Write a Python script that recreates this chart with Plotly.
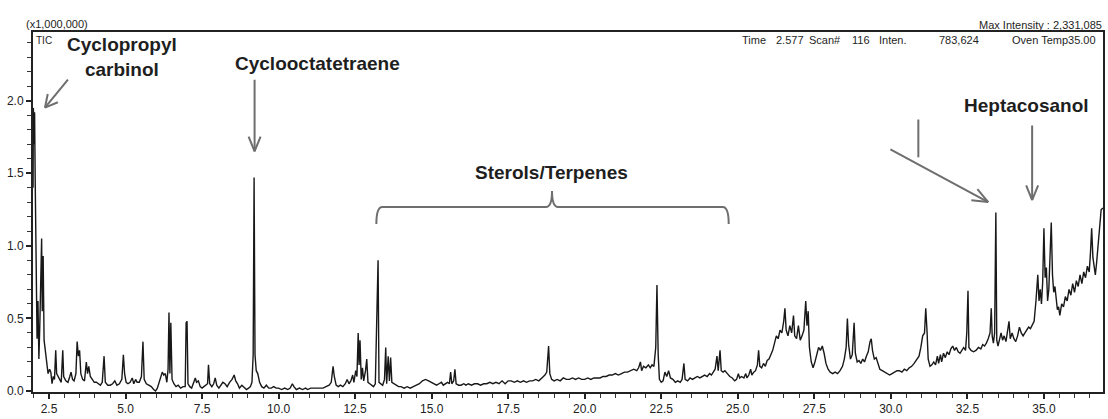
import plotly.graph_objects as go
import math

# ---------------- data (retention time in min, TIC intensity in x1,000,000) ----------------
time_min = [
    1.98, 1.99, 2.01, 2.03, 2.05, 2.08, 2.11, 2.14, 2.17, 2.20, 2.23, 2.26, 2.28, 2.31, 2.34, 2.38, 2.42, 2.47,
    2.52, 2.56, 2.60, 2.64, 2.68, 2.72, 2.75, 2.80, 2.85, 2.90, 2.95, 2.98,
    3.05, 3.12, 3.18, 3.22, 3.27, 3.32, 3.38, 3.42, 3.46, 3.50, 3.54, 3.60, 3.66, 3.72, 3.76, 3.80, 3.85, 3.92,
    3.98, 4.05, 4.12, 4.18, 4.24, 4.30, 4.34, 4.42, 4.50, 4.58, 4.65, 4.72, 4.80, 4.88, 4.93, 4.97, 5.02,
    5.08, 5.15, 5.22, 5.27, 5.33, 5.38, 5.45, 5.52, 5.57, 5.61, 5.68, 5.76, 5.84, 5.92, 5.98, 6.04, 6.10, 6.16,
    6.20, 6.25, 6.30, 6.35, 6.39, 6.42, 6.45, 6.48, 6.52, 6.58, 6.65, 6.72, 6.80, 6.88, 6.95, 6.98, 7.01, 7.04,
    7.10, 7.16, 7.22, 7.28, 7.32, 7.38, 7.44, 7.50,
    7.56, 7.62, 7.68, 7.71, 7.75, 7.82, 7.88, 7.93, 7.98, 8.05, 8.12, 8.18, 8.25, 8.32, 8.40, 8.48, 8.55, 8.60,
    8.66, 8.72, 8.80, 8.88, 8.95, 9.02, 9.08, 9.13, 9.17, 9.20, 9.23, 9.27, 9.32, 9.38, 9.45, 9.52, 9.60, 9.68,
    9.76, 9.84, 9.92, 10.00,
    10.10, 10.20, 10.30, 10.38, 10.45, 10.50, 10.58, 10.68, 10.78, 10.88, 10.95, 11.05, 11.15, 11.25, 11.35,
    11.45, 11.55, 11.65, 11.72, 11.78, 11.82, 11.88, 11.95, 12.02, 12.10, 12.18, 12.24, 12.30, 12.36, 12.42, 12.46,
    12.52, 12.56, 12.60, 12.63, 12.66, 12.70, 12.74, 12.78, 12.84, 12.88, 12.92, 12.98, 13.04, 13.10, 13.16,
    13.22, 13.25, 13.28, 13.34, 13.40, 13.46, 13.50, 13.53, 13.58, 13.62, 13.66, 13.70, 13.76, 13.84,
    13.92, 14.00, 14.10, 14.20, 14.30, 14.40, 14.50, 14.60, 14.70, 14.80, 14.90, 15.00, 15.08, 15.16, 15.24,
    15.32, 15.38, 15.45, 15.52, 15.58, 15.62, 15.66, 15.72, 15.76, 15.80, 15.88, 15.96, 16.05, 16.12, 16.20,
    16.30, 16.40, 16.50, 16.60, 16.70, 16.80, 16.90, 17.00, 17.10, 17.20, 17.30, 17.40, 17.50, 17.60, 17.70,
    17.80, 17.90, 18.00, 18.10, 18.20, 18.30, 18.40, 18.50, 18.60, 18.70, 18.76, 18.82, 18.86, 18.92, 19.00,
    19.10, 19.20, 19.30, 19.40, 19.50, 19.60, 19.70, 19.80, 19.90, 20.00, 20.10, 20.20, 20.30, 20.40, 20.50,
    20.60, 20.70, 20.80, 20.90, 21.00, 21.10, 21.20, 21.30, 21.40, 21.50, 21.60, 21.70, 21.76, 21.82, 21.86,
    21.92, 22.00, 22.08, 22.14, 22.20, 22.26, 22.32, 22.36, 22.40, 22.44, 22.50,
    22.56, 22.62, 22.68, 22.74, 22.80, 22.88, 22.96, 23.04, 23.12, 23.18, 23.24, 23.28, 23.36, 23.44, 23.52,
    23.60, 23.68, 23.76, 23.84, 23.92, 24.00, 24.08, 24.14, 24.20, 24.26, 24.32, 24.36, 24.42, 24.46, 24.52,
    24.58, 24.66, 24.74, 24.82, 24.90, 24.96, 25.02, 25.06, 25.12, 25.20, 25.26, 25.30, 25.36, 25.42, 25.46,
    25.52, 25.58, 25.64, 25.68, 25.72, 25.78, 25.84, 25.90, 25.96, 26.02,
    26.08, 26.14, 26.20, 26.26, 26.32, 26.38, 26.44, 26.50, 26.54, 26.58, 26.64, 26.70, 26.76, 26.82, 26.86,
    26.92, 26.98, 27.04, 27.10, 27.16, 27.22, 27.26, 27.30, 27.34, 27.40, 27.46, 27.52, 27.58, 27.64, 27.70,
    27.76, 27.82, 27.88, 27.95, 28.02, 28.10, 28.18, 28.26, 28.34, 28.42, 28.48, 28.54, 28.58, 28.62, 28.68,
    28.74, 28.80, 28.84, 28.90,
    28.96, 29.02, 29.08, 29.14, 29.20, 29.26, 29.32, 29.36, 29.40, 29.46, 29.52, 29.58, 29.64, 29.72, 29.80,
    29.88, 29.96, 30.04, 30.12, 30.20, 30.28, 30.36, 30.44, 30.52, 30.60, 30.68, 30.76, 30.84, 30.92, 30.98,
    31.04, 31.10, 31.14, 31.18, 31.22, 31.28, 31.34,
    31.40, 31.46, 31.52, 31.56, 31.62, 31.66, 31.72, 31.78, 31.84, 31.90, 31.96, 32.02, 32.08, 32.14, 32.20,
    32.26, 32.32, 32.38, 32.44, 32.48, 32.52, 32.55, 32.62, 32.70, 32.78, 32.86, 32.94, 33.00, 33.06, 33.12, 33.18,
    33.24, 33.28, 33.31, 33.35, 33.39, 33.43, 33.46, 33.50, 33.55, 33.60, 33.65, 33.70, 33.76, 33.82, 33.86,
    33.90, 33.96, 34.02, 34.08, 34.14, 34.20, 34.26, 34.32, 34.38, 34.44, 34.50, 34.56, 34.62, 34.68, 34.74,
    34.80, 34.84, 34.88, 34.92, 34.96, 35.00, 35.04, 35.08, 35.12, 35.16, 35.20, 35.24, 35.28, 35.32, 35.36,
    35.40, 35.44, 35.48, 35.52,
    35.58, 35.64, 35.70, 35.76, 35.82, 35.88, 35.94, 36.00, 36.06, 36.12, 36.18, 36.24, 36.30, 36.36, 36.42,
    36.48, 36.52, 36.56, 36.60, 36.64, 36.68, 36.72, 36.77, 36.82, 36.87, 36.93,
]

tic = [
    1.40, 1.95, 1.70, 1.92, 1.45, 0.62, 0.36, 0.62, 0.22, 0.45, 0.74, 1.05, 0.55, 0.93, 0.35, 0.28, 0.18, 0.12,
    0.15, 0.13, 0.05, 0.10, 0.08, 0.28, 0.12, 0.10, 0.07, 0.06, 0.28, 0.10,
    0.07, 0.06, 0.10, 0.13, 0.08, 0.07, 0.12, 0.34, 0.24, 0.28, 0.12, 0.08, 0.07, 0.20, 0.12, 0.17, 0.10, 0.08,
    0.06, 0.06, 0.05, 0.04, 0.06, 0.24, 0.06, 0.04, 0.04, 0.05, 0.07, 0.04, 0.05, 0.08, 0.25, 0.12, 0.06,
    0.05, 0.06, 0.09, 0.05, 0.08, 0.06, 0.06, 0.10, 0.34, 0.08, 0.05, 0.04, 0.03, 0.01, 0.00, 0.02, 0.06, 0.10,
    0.13, 0.11, 0.12, 0.06, 0.15, 0.54, 0.12, 0.47, 0.08, 0.05, 0.03, 0.04, 0.02, 0.03, 0.03, 0.47, 0.48, 0.05,
    0.03, 0.02, 0.05, 0.09, 0.06, 0.07, 0.03, 0.02,
    0.03, 0.04, 0.05, 0.18, 0.05, 0.03, 0.05, 0.09, 0.04, 0.02, 0.04, 0.06, 0.05, 0.03, 0.06, 0.08, 0.11, 0.07,
    0.05, 0.02, 0.04, 0.02, 0.01, 0.02, 0.03, 0.06, 0.25, 1.47, 0.25, 0.14, 0.12, 0.06, 0.03, 0.02, 0.04, 0.02,
    0.02, 0.03, 0.02, 0.02,
    0.01, 0.02, 0.01, 0.02, 0.05, 0.03, 0.01, 0.02, 0.01, 0.02, 0.01, 0.02, 0.02, 0.02, 0.02,
    0.02, 0.03, 0.04, 0.06, 0.17, 0.10, 0.04, 0.03, 0.04, 0.03, 0.05, 0.08, 0.05, 0.07, 0.11, 0.06,
    0.14, 0.10, 0.40, 0.18, 0.35, 0.08, 0.16, 0.07, 0.14, 0.22, 0.06, 0.05, 0.04, 0.03, 0.05,
    0.62, 0.90, 0.06, 0.05, 0.04, 0.08, 0.30, 0.05, 0.24, 0.07, 0.23, 0.06, 0.05, 0.04,
    0.03, 0.03, 0.02, 0.03, 0.02, 0.03, 0.04, 0.05, 0.07, 0.08, 0.07, 0.06, 0.05, 0.04, 0.05,
    0.06, 0.04, 0.05, 0.06, 0.05, 0.13, 0.05, 0.07, 0.15, 0.05, 0.04, 0.04, 0.05, 0.04, 0.05,
    0.04, 0.05, 0.05, 0.04, 0.05, 0.05, 0.06, 0.05, 0.06, 0.05, 0.07, 0.05, 0.07, 0.07, 0.06,
    0.07, 0.06, 0.07, 0.06, 0.07, 0.07, 0.08, 0.07, 0.09, 0.11, 0.13, 0.31, 0.12, 0.08, 0.07,
    0.08, 0.07, 0.09, 0.08, 0.08, 0.09, 0.08, 0.09, 0.08, 0.08, 0.09, 0.08, 0.09, 0.09, 0.09,
    0.10, 0.10, 0.11, 0.11, 0.12, 0.11, 0.12, 0.13, 0.13, 0.14, 0.15, 0.14, 0.16, 0.20, 0.14,
    0.17, 0.16, 0.18, 0.16, 0.18, 0.17, 0.30, 0.73, 0.25, 0.08, 0.06,
    0.07, 0.13, 0.10, 0.14, 0.09, 0.08, 0.06, 0.07, 0.06, 0.08, 0.19, 0.08, 0.07, 0.09, 0.08,
    0.09, 0.10, 0.09, 0.10, 0.11, 0.10, 0.12, 0.11, 0.13, 0.15, 0.24, 0.14, 0.28, 0.14, 0.13,
    0.14, 0.12, 0.10, 0.09, 0.07, 0.08, 0.12, 0.09, 0.10, 0.09, 0.12, 0.09, 0.11, 0.15, 0.11,
    0.13, 0.14, 0.18, 0.28, 0.17, 0.16, 0.19, 0.17, 0.21, 0.22,
    0.25, 0.28, 0.33, 0.38, 0.36, 0.42, 0.40, 0.48, 0.57, 0.42, 0.38, 0.45, 0.40, 0.52, 0.38,
    0.36, 0.45, 0.35, 0.38, 0.42, 0.62, 0.45, 0.55, 0.30, 0.20, 0.16, 0.20, 0.26, 0.30, 0.28,
    0.31, 0.26, 0.19, 0.15, 0.13, 0.12, 0.13, 0.12, 0.14, 0.17, 0.22, 0.30, 0.50, 0.32, 0.22,
    0.25, 0.47, 0.26, 0.20,
    0.21, 0.19, 0.22, 0.20, 0.24, 0.27, 0.34, 0.36, 0.28, 0.22, 0.23, 0.19, 0.15, 0.14, 0.13,
    0.12, 0.11, 0.12, 0.13, 0.14, 0.14, 0.13, 0.15, 0.14, 0.16, 0.17, 0.19, 0.22, 0.24, 0.30,
    0.38, 0.40, 0.57, 0.42, 0.22, 0.17, 0.18,
    0.20, 0.18, 0.24, 0.19, 0.25, 0.20, 0.26, 0.23, 0.27, 0.25, 0.29, 0.31, 0.28, 0.30, 0.27,
    0.26, 0.28, 0.30, 0.28, 0.40, 0.69, 0.30, 0.28, 0.27, 0.28, 0.30, 0.29, 0.32, 0.31, 0.33, 0.36,
    0.40, 0.57, 0.38, 0.33, 0.40, 1.23, 0.35, 0.31, 0.36, 0.40, 0.35, 0.38, 0.34, 0.42, 0.48,
    0.36, 0.40, 0.36, 0.34, 0.38, 0.44, 0.40, 0.38, 0.40, 0.42, 0.44, 0.43, 0.46, 0.48, 0.62,
    0.80, 0.62, 0.70, 0.60, 0.75, 1.12, 0.78, 0.85, 0.62, 0.70, 1.00, 1.16, 0.80, 0.68, 0.72,
    0.62, 0.56, 0.58, 0.52,
    0.60, 0.58, 0.65, 0.62, 0.70, 0.66, 0.74, 0.68, 0.76, 0.72, 0.80, 0.74, 0.82, 0.78, 0.86,
    0.82, 0.95, 1.12, 0.92, 0.84, 0.80, 0.88, 1.02, 1.16, 1.25, 1.26,
]

x_ticks = [2.5, 5.0, 7.5, 10.0, 12.5, 15.0, 17.5, 20.0, 22.5, 25.0, 27.5, 30.0, 32.5, 35.0]
y_ticks = [0.0, 0.5, 1.0, 1.5, 2.0]

compound_labels = ["Cyclopropyl<br>carbinol", "Cyclooctatetraene", "Sterols/Terpenes", "Heptacosanol"]

# ---------------- layout geometry (pixels) ----------------
W, H = 1108, 419
L, R, T, B = 33, 1105, 32, 394          # plot-area edges in px
X_RANGE = [1.978, 36.93]
Y_RANGE = [-0.0068, 2.4726]


def xp(px):
    return (px - L) / (R - L)


def yp(py):
    return (B - py) / (B - T)


fig = go.Figure()
fig.add_trace(go.Scatter(
    x=time_min, y=tic, mode="lines",
    line=dict(color="#181818", width=1.4),
    showlegend=False, hoverinfo="x+y",
))

NARROW = "Liberation Sans Narrow, Arial Narrow, Liberation Sans, Arial, sans-serif"
BOLD = "Liberation Sans, Arial, sans-serif"
GREY = "#6e6e6e"

shapes = []


def seg(p1, p2, w=2.0, color=GREY):
    shapes.append(dict(type="line", xref="paper", yref="paper",
                       x0=xp(p1[0]), y0=yp(p1[1]), x1=xp(p2[0]), y1=yp(p2[1]),
                       line=dict(color=color, width=w)))


def arrow(p1, p2, head=15, ang=28):
    seg(p1, p2)
    dx, dy = p2[0] - p1[0], p2[1] - p1[1]
    n = math.hypot(dx, dy)
    ux, uy = dx / n, dy / n
    for s in (1, -1):
        a = math.radians(ang) * s
        rx = ux * math.cos(a) - uy * math.sin(a)
        ry = ux * math.sin(a) + uy * math.cos(a)
        seg(p2, (p2[0] - head * rx, p2[1] - head * ry))


arrow((68, 80), (45, 108), head=14)
arrow((255, 80), (255, 152), head=16, ang=22)
arrow((892, 150), (990, 203), head=17, ang=22)
seg((920, 120), (920, 158))
arrow((1034, 126), (1034, 201), head=16, ang=22)

# curly brace over sterols / terpenes
bx = [377, 383, 547, 553, 559, 724, 730]
by_end, by_line, by_tip = 225, 208, 192
path = (f"M {xp(bx[0])},{yp(by_end)} Q {xp(bx[0])},{yp(by_line)} {xp(bx[1])},{yp(by_line)} "
        f"L {xp(bx[2])},{yp(by_line)} Q {xp(bx[3])},{yp(by_line)} {xp(bx[3])},{yp(by_tip)} "
        f"Q {xp(bx[3])},{yp(by_line)} {xp(bx[4])},{yp(by_line)} "
        f"L {xp(bx[5])},{yp(by_line)} Q {xp(bx[6])},{yp(by_line)} {xp(bx[6])},{yp(by_end)}")
shapes.append(dict(type="path", xref="paper", yref="paper", path=path,
                   line=dict(color=GREY, width=2)))

annotations = []


def txt(text, px, py, size, font=NARROW, anchor="center", color="#1e1e1e"):
    annotations.append(dict(text=text, x=xp(px), y=yp(py), xref="paper", yref="paper",
                            xanchor=anchor, yanchor="middle", showarrow=False,
                            font=dict(family=font, size=size, color=color)))


# compound labels
txt("<b>" + compound_labels[0] + "</b>", 122, 57, 19, BOLD)
txt("<b>" + compound_labels[1] + "</b>", 318, 64, 19, BOLD)
txt("<b>" + compound_labels[2] + "</b>", 552, 173, 19, BOLD)
txt("<b>" + compound_labels[3] + "</b>", 1028, 106, 19, BOLD)

# instrument header texts
txt("(x1,000,000)", 24, 24, 11, anchor="left")
txt("TIC", 34, 41, 10, anchor="left")
txt("Max Intensity : 2,331,085", 1106, 25, 11, anchor="right")
header_left = [("Time", 741), ("2.577", 775), ("Scan#", 808), ("116", 852), ("Inten.", 879)]
for t, x in header_left:
    txt(t, x, 40, 11, anchor="left")
txt("783,624", 983, 40, 11, anchor="right")
txt("Oven Temp35.00", 1100, 40, 11, anchor="right")

fig.update_layout(
    width=W, height=H,
    margin=dict(l=L, r=W - R, t=T, b=H - B, pad=0),
    paper_bgcolor="white", plot_bgcolor="white",
    shapes=shapes, annotations=annotations,
    showlegend=False,
    xaxis=dict(
        range=X_RANGE, tickvals=x_ticks, ticktext=[f"{v:.1f}" for v in x_ticks],
        ticks="outside", ticklen=5, tickwidth=1.5, tickcolor="#222",
        minor=dict(dtick=0.5, tick0=0.0, ticks="outside", ticklen=4, tickwidth=1.2, tickcolor="#333"),
        showline=True, linecolor="#222", linewidth=1.6, mirror=True,
        showgrid=False, zeroline=False,
        tickfont=dict(family=NARROW, size=12, color="#222"),
    ),
    yaxis=dict(
        range=Y_RANGE, tickvals=y_ticks, ticktext=[f"{v:.1f}" for v in y_ticks],
        ticks="outside", ticklen=5, tickwidth=1.5, tickcolor="#222",
        minor=dict(dtick=0.1, tick0=0.0, ticks="outside", ticklen=4, tickwidth=1.2, tickcolor="#333"),
        showline=True, linecolor="#222", linewidth=2, mirror=True,
        showgrid=False, zeroline=False,
        tickfont=dict(family=NARROW, size=12, color="#222"),
    ),
)

fig.write_html("out.html", config={"displayModeBar": False},
               post_script="document.body.style.margin='0';")
